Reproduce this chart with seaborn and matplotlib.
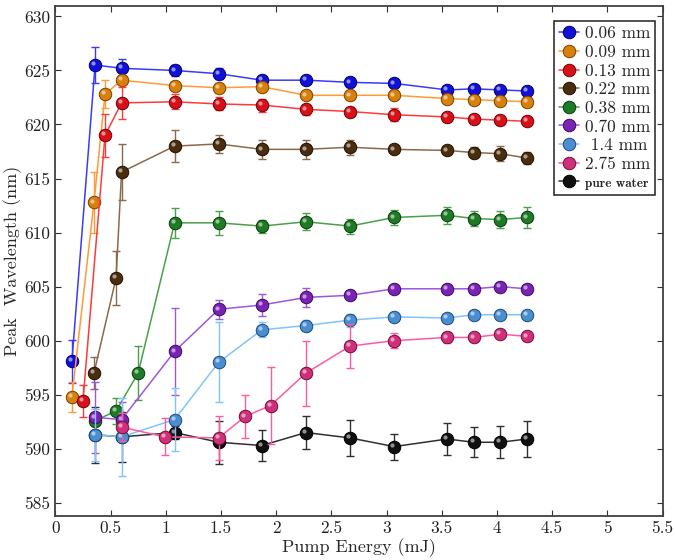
import numpy as np
import pandas as pd
import matplotlib
matplotlib.use("Agg")
import matplotlib.pyplot as plt
import matplotlib.transforms as mtransforms
import seaborn as sns

# data
labels = ["0.06 mm", "0.09 mm", "0.13 mm", "0.22 mm", "0.38 mm",
          "0.70 mm", " 1.4 mm", "2.75 mm", "pure water"]

x_006 = [0.15, 0.36, 0.60, 1.08, 1.48, 1.87, 2.27, 2.67, 3.07, 3.55, 3.79, 4.03, 4.27]
y_006 = [598.1, 625.5, 625.2, 625.0, 624.7, 624.1, 624.1, 623.9, 623.8, 623.2, 623.3, 623.2, 623.1]
e_006 = [2.0, 1.7, 0.9, 0.5, 0.5, 0.3, 0.3, 0.4, 0.3, 0.2, 0.2, 0.2, 0.2]

x_009 = [0.15, 0.35, 0.45, 0.60, 1.08, 1.48, 1.87, 2.27, 2.67, 3.07, 3.55, 3.79, 4.03, 4.27]
y_009 = [594.8, 612.8, 622.8, 624.1, 623.6, 623.4, 623.5, 622.7, 622.7, 622.7, 622.4, 622.3, 622.2, 622.1]
e_009 = [1.4, 2.8, 1.3, 0.4, 0.3, 0.3, 0.4, 0.2, 0.2, 0.2, 0.2, 0.2, 0.2, 0.2]

x_013 = [0.25, 0.45, 0.60, 1.08, 1.48, 1.87, 2.27, 2.67, 3.07, 3.55, 3.79, 4.03, 4.27]
y_013 = [594.4, 619.0, 622.0, 622.1, 621.9, 621.8, 621.4, 621.2, 620.9, 620.7, 620.5, 620.4, 620.3]
e_013 = [1.5, 2.0, 1.5, 0.7, 0.6, 0.6, 0.5, 0.3, 0.6, 0.3, 0.3, 0.3, 0.3]

x_022 = [0.35, 0.55, 0.60, 1.08, 1.48, 1.87, 2.27, 2.67, 3.07, 3.55, 3.79, 4.03, 4.27]
y_022 = [597.0, 605.8, 615.6, 618.0, 618.2, 617.7, 617.7, 617.9, 617.7, 617.6, 617.4, 617.3, 616.9]
e_022 = [1.5, 2.5, 2.6, 1.5, 0.8, 0.9, 0.9, 0.7, 0.2, 0.3, 0.5, 0.7, 0.6]

x_038 = [0.36, 0.55, 0.75, 1.08, 1.48, 1.87, 2.27, 2.67, 3.07, 3.55, 3.79, 4.03, 4.27]
y_038 = [592.6, 593.5, 597.0, 610.9, 610.9, 610.6, 611.0, 610.6, 611.4, 611.6, 611.3, 611.2, 611.4]
e_038 = [0.5, 1.2, 2.5, 1.4, 1.1, 0.6, 0.8, 0.7, 0.7, 0.8, 0.7, 0.8, 1.0]

x_070 = [0.36, 0.60, 1.08, 1.48, 1.87, 2.27, 2.67, 3.07, 3.55, 3.79, 4.03, 4.27]
y_070 = [592.9, 592.7, 599.0, 602.9, 603.3, 604.0, 604.2, 604.8, 604.8, 604.8, 605.0, 604.8]
e_070 = [3.3, 1.6, 4.0, 0.9, 1.0, 0.9, 0.2, 0.2, 0.2, 0.2, 0.2, 0.2]

x_14 = [0.36, 0.60, 1.08, 1.48, 1.87, 2.27, 2.67, 3.07, 3.55, 3.79, 4.03, 4.27]
y_14 = [591.3, 591.1, 592.7, 598.0, 601.0, 601.4, 601.9, 602.2, 602.1, 602.4, 602.4, 602.4]
e_14 = [2.4, 3.6, 2.9, 3.7, 0.7, 0.5, 0.6, 0.2, 0.2, 0.2, 0.2, 0.2]

x_275 = [0.60, 0.99, 1.48, 1.72, 1.95, 2.27, 2.67, 3.07, 3.55, 3.79, 4.03, 4.27]
y_275 = [592.0, 591.1, 591.0, 593.0, 594.0, 597.0, 599.5, 600.0, 600.3, 600.3, 600.6, 600.4]
e_275 = [1.3, 1.7, 2.0, 2.0, 3.6, 3.0, 2.0, 0.7, 0.5, 0.4, 0.3, 0.4]

x_water = [0.36, 0.60, 1.08, 1.48, 1.87, 2.27, 2.67, 3.07, 3.55, 3.79, 4.03, 4.27]
y_water = [591.3, 591.1, 591.5, 590.6, 590.3, 591.5, 591.0, 590.2, 590.9, 590.6, 590.6, 590.9]
e_water = [2.6, 2.3, 0.6, 2.0, 1.4, 1.5, 1.7, 1.2, 1.5, 1.4, 1.5, 1.7]

xs = [x_006, x_009, x_013, x_022, x_038, x_070, x_14, x_275, x_water]
ys = [y_006, y_009, y_013, y_022, y_038, y_070, y_14, y_275, y_water]
es = [e_006, e_009, e_013, e_022, e_038, e_070, e_14, e_275, e_water]

x_ticks = [0, 0.5, 1, 1.5, 2, 2.5, 3, 3.5, 4, 4.5, 5, 5.5]
x_ticklabels = ["0", "0.5", "1", "1.5", "2", "2.5", "3", "3.5", "4", "4.5", "5", "5.5"]
y_ticks = [585, 590, 595, 600, 605, 610, 615, 620, 625, 630]

# (line colour, marker colour, marker edge)
line_colors = ["#3a3aff", "#ff9a3a", "#ff3a3a", "#8a6a4a", "#4aa04a", "#a055e0", "#80c4ff", "#ff5aa0", "#303030"]
marker_colors = ["#1010d8", "#d8800c", "#d81018", "#4a2c0e", "#1e7a24", "#7a22b4", "#4a8ed0", "#d0307a", "#101010"]
edge_colors = ["#000070", "#7a4000", "#700008", "#201000", "#0a3a0c", "#3a0a60", "#1a4a80", "#701038", "#000000"]

sns.set_style("ticks")
plt.rcParams["font.family"] = "cmr10"
plt.rcParams["mathtext.fontset"] = "cm"

fig, ax = plt.subplots(figsize=(6.75, 5.6), dpi=100)
fig.subplots_adjust(left=0.082, right=0.9815, top=0.99, bottom=0.079)

# little white shine on each ball
shine = mtransforms.offset_copy(ax.transData, fig=fig, x=-1.3, y=1.3, units="points")

for i in range(len(labels)):
    z = 2 if i == 8 else 3 + i
    df = pd.DataFrame({"x": xs[i], "y": ys[i]})
    ax.errorbar(df["x"], df["y"], yerr=es[i], fmt="none", ecolor=line_colors[i],
                elinewidth=1.0, capsize=3, capthick=1.0, zorder=z)
    sns.lineplot(data=df, x="x", y="y", ax=ax, color=line_colors[i], linewidth=1.1,
                 marker="o", markersize=9, markerfacecolor=marker_colors[i],
                 markeredgecolor=edge_colors[i], markeredgewidth=0.7,
                 sort=False, zorder=z + 0.1, label=labels[i])
    ax.plot(df["x"], df["y"], linestyle="none", marker="o", markersize=3,
            markerfacecolor="white", markeredgewidth=0, alpha=0.55,
            transform=shine, zorder=z + 0.2)

ax.set_xlim(0, 5.5)
ax.set_ylim(583.8, 631.0)
ax.set_xticks(x_ticks)
ax.set_xticklabels(x_ticklabels)
ax.set_yticks(y_ticks)
ax.tick_params(direction="in", top=True, right=True, labelsize=12.5,
               length=4, width=0.8, colors="#303030", labelcolor="#202020")
for s in ax.spines.values():
    s.set_color("#404040")
    s.set_linewidth(1.3)
    s.set_visible(True)

ax.set_xlabel("Pump Energy (mJ)", fontsize=13, labelpad=2)
ax.set_ylabel("Peak  Wavelength (nm)", fontsize=13, labelpad=2)

leg = ax.legend(loc="upper right", bbox_to_anchor=(0.988, 0.970), frameon=True,
                fancybox=False, edgecolor="#202020", framealpha=1, fontsize=12.5,
                handlelength=1.15, handletextpad=0.3, labelspacing=0.19,
                borderpad=0.3, borderaxespad=0)
leg.get_frame().set_linewidth(1.1)
t = leg.get_texts()[-1]
t.set_fontfamily("cmb10")
t.set_fontsize(9.5)

plt.savefig("out.png", dpi=100)
